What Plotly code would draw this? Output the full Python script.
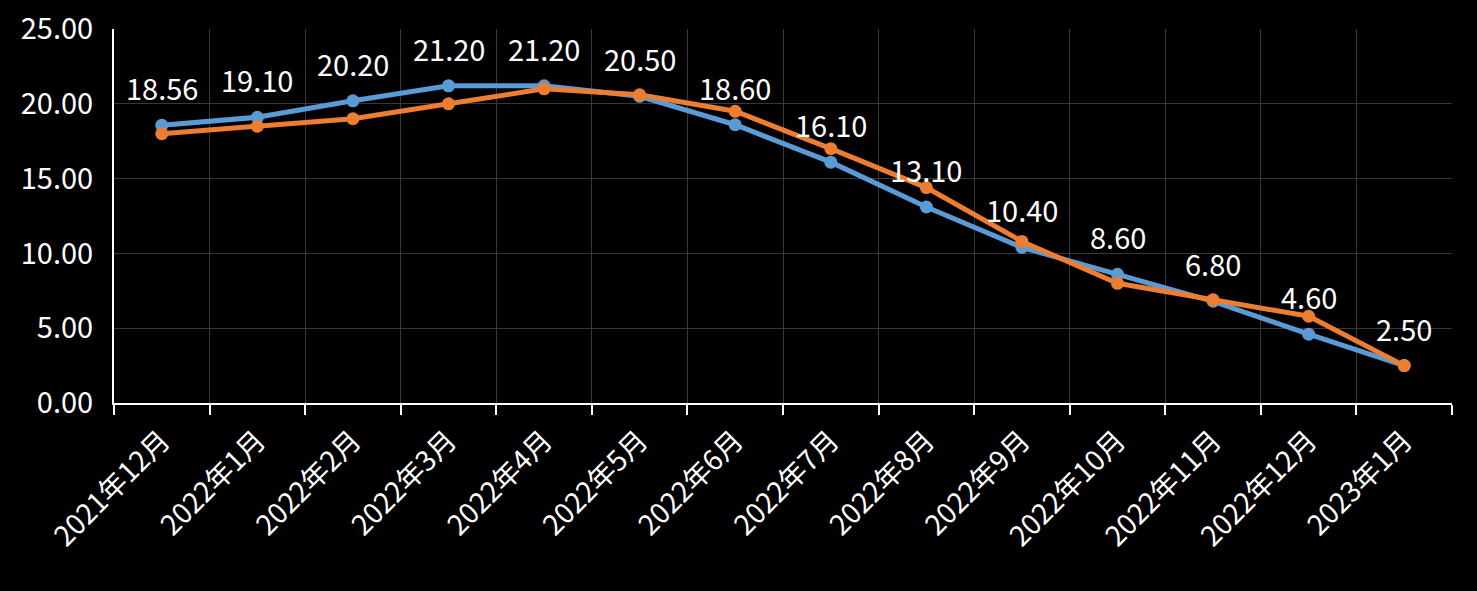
import plotly.graph_objects as go

# monthly values
months = ["2021年12月", "2022年1月", "2022年2月", "2022年3月", "2022年4月", "2022年5月",
          "2022年6月", "2022年7月", "2022年8月", "2022年9月", "2022年10月", "2022年11月",
          "2022年12月", "2023年1月"]
blue_vals = [18.56, 19.10, 20.20, 21.20, 21.20, 20.50, 18.60, 16.10, 13.10, 10.40, 8.60, 6.80, 4.60, 2.50]
orange_vals = [18.0, 18.5, 19.0, 20.0, 21.0, 20.6, 19.5, 17.0, 14.4, 10.8, 8.0, 6.9, 5.8, 2.5]
y_ticks = [0, 5, 10, 15, 20, 25]

font_family = "Noto Sans CJK TC, Noto Sans, sans-serif"

fig = go.Figure()
fig.add_trace(go.Scatter(
    x=months, y=blue_vals, mode="lines+markers",
    line=dict(color="#5B9BD5", width=5),
    marker=dict(color="#5B9BD5", size=13),
    showlegend=False,
))
fig.add_trace(go.Scatter(
    x=months, y=orange_vals, mode="lines+markers",
    line=dict(color="#ED7D31", width=5),
    marker=dict(color="#ED7D31", size=13),
    showlegend=False,
))

# data labels above the blue series
for m, v in zip(months, blue_vals):
    fig.add_annotation(x=m, y=v, text=f"{v:.2f}", showarrow=False, yshift=38,
                       font=dict(size=29, color="white", family=font_family))

fig.update_layout(
    width=1477, height=591,
    paper_bgcolor="black", plot_bgcolor="black",
    margin=dict(l=114, r=25, t=29, b=188),
    font=dict(family=font_family, color="white"),
)
fig.update_xaxes(
    type="category", tickson="boundaries", range=[-0.5, len(months) - 0.5],
    automargin=False,
    showgrid=True, gridcolor="#383838", gridwidth=1,
    showline=True, linecolor="white", linewidth=2,
    ticks="outside", ticklen=10, tickcolor="white", tickwidth=2,
    tickangle=-45, ticklabelstandoff=8, tickfont=dict(size=28, color="white"),
)
fig.update_yaxes(
    range=[0, 25], tickvals=y_ticks, tickformat=".2f", automargin=False,
    showgrid=True, gridcolor="#383838", gridwidth=1,
    showline=True, linecolor="white", linewidth=2,
    zeroline=False, ticks="", ticklabelstandoff=13,
    tickfont=dict(size=29, color="white"),
)

fig.write_html("out.html", config={"displayModeBar": False},
               post_script="document.body.style.margin='0';document.body.style.background='black';")
